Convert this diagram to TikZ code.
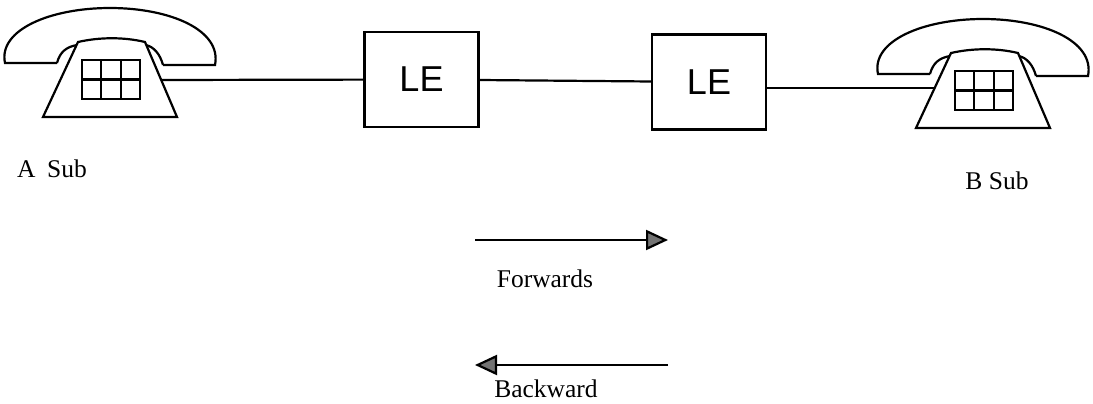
\documentclass[tikz,border=0pt]{standalone}
\usepackage{fontspec}
\setmainfont{Liberation Serif}
\newfontfamily\lefont{Liberation Sans}
\usetikzlibrary{arrows.meta}
\tikzset{
  phone/.pic={
    \draw (57,63)--(5,63) .. controls (-2,30) and (50,8) .. (110,8)
      .. controls (170,8) and (222,30) .. (215,65)--(163,65);
    \draw (57,63) .. controls (60,52) and (66,47) .. (77,45);
    \draw (163,65) .. controls (160,54) and (154,47) .. (146,45);
    \draw[fill=white] (78,42) .. controls (100,37) and (124,37) .. (145,42)
      --(177,117)--(43,117)--cycle;
    \draw (82,60) rectangle (140,99);
    \draw (101.3,60)--(101.3,99) (120.7,60)--(120.7,99) (82,79.5)--(140,79.5);
    \coordinate (-r) at (161,80);
    \coordinate (-l) at (62,77);
  },
  exch/.style={draw,minimum width=114pt,minimum height=95pt,font=\lefont\fontsize{36}{40}\selectfont},
  lbl/.style={anchor=base,font=\fontsize{25.5}{30}\selectfont}
}
\begin{document}
\begin{tikzpicture}[x=1pt,y=-1pt,line width=2.2pt,
  >={Triangle[length=22pt,width=20pt,fill=black!55]}]
\useasboundingbox (0,0) rectangle (1093,404);
% subscribers
\pic (A) at (0,0) {phone};
\pic (B) at (873,11) {phone};
\node[lbl] (asub) at (52,177) {A\hspace{0.45em}Sub};
\node[lbl] (bsub) at (997,189) {B Sub};
% exchanges
\node[exch] (le1) at (421.5,79.5) {LE};
\node[exch] (le2) at (709,82) {LE};
\draw (A-r)--(le1);
\draw (le1)--(le2);
\draw (le2.east |- B-l)--(B-l);
% directions
\coordinate (f1) at (475,240);
\coordinate (f2) at (668,240);
\draw[->](f1)--(f2);
\node[lbl] (fw) at (545,287) {Forwards};
\coordinate (b1) at (668,365);
\coordinate (b2) at (475,365);
\draw[->](b1)--(b2);
\node[lbl] (bw) at (546,397) {Backward};
\end{tikzpicture}
\end{document}
